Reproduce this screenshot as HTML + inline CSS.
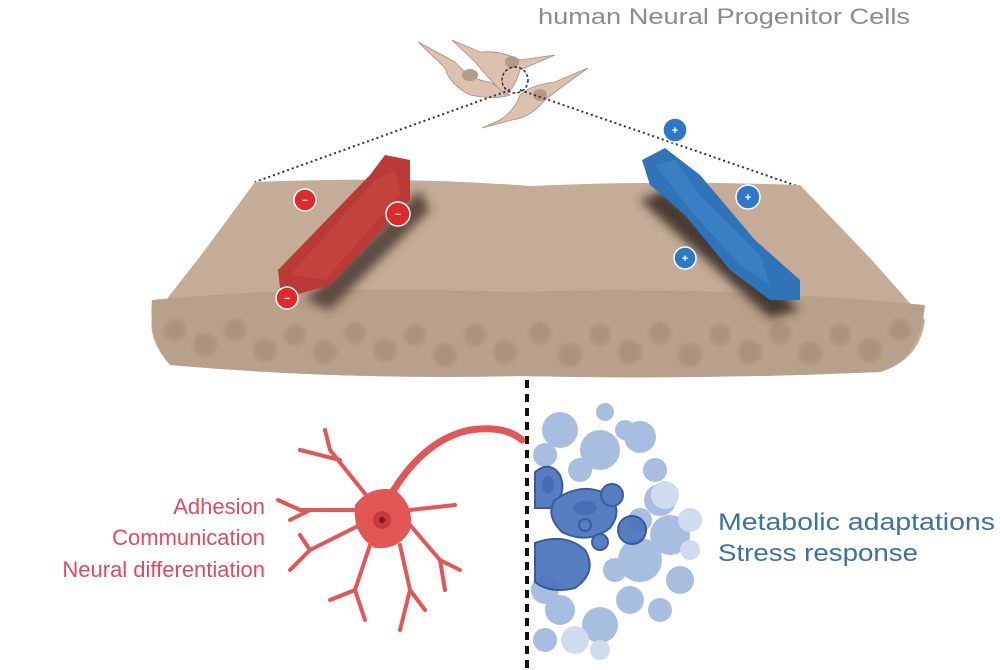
<!DOCTYPE html>
<html><head><meta charset="utf-8"><style>
body{margin:0;background:#fff;width:1000px;height:670px;overflow:hidden}
svg{display:block}
text{font-family:"Liberation Sans",sans-serif}
</style></head><body>
<svg width="1000" height="670" viewBox="0 0 1000 670">
<defs>
<filter id="bl"><feGaussianBlur stdDeviation="1.5"/></filter>
<filter id="bl4"><feGaussianBlur stdDeviation="5"/></filter>
</defs>
<text x="538" y="24" textLength="372" lengthAdjust="spacingAndGlyphs" font-size="22" fill="#8f8a86">human Neural Progenitor Cells</text>
<!-- cells -->
<g fill="#dcc1ae" stroke="#a88f80" stroke-width="0.8">
<path d="M418 42 L455 62 Q470 80 490 82 L510 95 Q495 100 470 95 Q450 85 445 68Z"/>
<path d="M452 40 L480 52 Q500 50 520 60 L555 55 L520 70 Q515 88 505 95 Q490 80 475 62Z"/>
<path d="M588 68 L555 82 Q530 85 520 95 Q515 110 500 120 L482 128 L512 120 Q530 118 545 100 Q560 88 588 68Z"/>
</g>
<g fill="#b59a88"><ellipse cx="470" cy="75" rx="8" ry="6"/><ellipse cx="512" cy="62" rx="7" ry="6"/><ellipse cx="540" cy="95" rx="7" ry="6"/></g>
<ellipse cx="515" cy="80" rx="13" ry="13" fill="none" stroke="#333" stroke-width="1.5" stroke-dasharray="3,2"/>
<g stroke="#333" stroke-width="2" stroke-dasharray="2,3" fill="none">
<line x1="510" y1="90" x2="255" y2="182"/><line x1="520" y1="90" x2="800" y2="187"/>
</g>
<!-- membrane -->
<path d="M255 182 Q400 176 530 186 Q660 180 800 185 L870 258 L925 320 Q920 360 880 372 Q700 380 520 376 Q340 380 170 365 Q148 340 152 318 L205 250Z" fill="#c5ac97"/>
<path d="M152 300 Q300 285 520 292 Q720 285 925 305 Q920 360 880 372 Q700 380 520 376 Q340 380 170 365 Q148 340 152 300Z" fill="#b9a08b"/>
<g fill="#a48a76" opacity="0.55" filter="url(#bl)">
<circle cx="175" cy="330" r="11"/><circle cx="205" cy="345" r="12"/><circle cx="235" cy="330" r="11"/><circle cx="265" cy="350" r="12"/><circle cx="295" cy="335" r="11"/><circle cx="325" cy="352" r="12"/><circle cx="355" cy="333" r="11"/><circle cx="385" cy="350" r="12"/><circle cx="415" cy="335" r="11"/><circle cx="445" cy="355" r="12"/><circle cx="475" cy="335" r="11"/><circle cx="505" cy="352" r="12"/><circle cx="540" cy="333" r="11"/><circle cx="570" cy="355" r="12"/><circle cx="600" cy="335" r="11"/><circle cx="630" cy="352" r="12"/><circle cx="660" cy="333" r="11"/><circle cx="690" cy="355" r="12"/><circle cx="720" cy="335" r="11"/><circle cx="750" cy="352" r="12"/><circle cx="780" cy="333" r="11"/><circle cx="810" cy="353" r="12"/><circle cx="840" cy="335" r="11"/><circle cx="870" cy="350" r="12"/><circle cx="900" cy="330" r="11"/>
</g>
<!-- shadows -->
<path d="M305 300 L420 190 L430 210 L330 310Z" fill="#4a3a30" opacity="0.85" filter="url(#bl4)"/>
<path d="M640 200 L665 190 L800 310 L770 318Z" fill="#3a2e26" opacity="0.9" filter="url(#bl4)"/>
<!-- red protein -->
<path d="M278 270 L370 175 L385 155 L410 160 L410 200 L330 285 L295 295 L280 288Z" fill="#b93a36"/>
<path d="M290 275 L375 180 L395 170 L400 195 L325 280Z" fill="#c9463f" opacity="0.7"/>
<!-- blue protein -->
<path d="M642 160 L665 148 L700 175 L755 240 L800 280 L800 300 L770 300 L730 270 L685 215 L650 185Z" fill="#2f73b8"/>
<path d="M655 165 L675 160 L700 195 L760 255 L770 285 L740 265 L690 210Z" fill="#3c84c8" opacity="0.7"/>
<!-- charges -->
<g fill="#e02a2a" stroke="#fff" stroke-width="1.5">
<circle cx="305" cy="200" r="11"/><circle cx="398" cy="214" r="12"/><circle cx="287" cy="298" r="11"/>
</g>
<g fill="#2e78c8" stroke="#fff" stroke-width="1.5">
<circle cx="675" cy="130" r="12"/><circle cx="748" cy="197" r="12"/><circle cx="685" cy="258" r="11"/>
</g>
<g fill="#fff" font-size="11" text-anchor="middle" font-weight="bold">
<text x="305" y="204">−</text><text x="398" y="218">−</text><text x="287" y="302">−</text>
<text x="675" y="134">+</text><text x="748" y="201">+</text><text x="685" y="262">+</text>
</g>
<!-- dashed vertical -->
<line x1="527" y1="380" x2="527" y2="670" stroke="#111" stroke-width="4" stroke-dasharray="8,6"/>
<!-- blue blobs -->
<g fill="#9fb8de" opacity="0.9">
<circle cx="560" cy="430" r="18"/><circle cx="545" cy="455" r="12"/><circle cx="605" cy="412" r="9"/><circle cx="625" cy="430" r="10"/><circle cx="640" cy="437" r="16"/><circle cx="600" cy="450" r="20"/><circle cx="580" cy="470" r="12"/><circle cx="655" cy="470" r="12"/><circle cx="660" cy="500" r="16"/><circle cx="670" cy="535" r="20"/><circle cx="640" cy="560" r="22"/><circle cx="680" cy="580" r="14"/><circle cx="630" cy="600" r="14"/><circle cx="600" cy="625" r="18"/><circle cx="560" cy="610" r="15"/><circle cx="545" cy="640" r="12"/><circle cx="615" cy="570" r="12"/><circle cx="640" cy="520" r="12"/><circle cx="545" cy="590" r="14"/><circle cx="660" cy="610" r="12"/>
</g>
<g fill="#cfdbee"><circle cx="665" cy="495" r="14"/><circle cx="690" cy="520" r="12"/><circle cx="575" cy="640" r="14"/><circle cx="600" cy="650" r="10"/><circle cx="690" cy="550" r="10"/></g>
<g fill="#4a74bd" stroke="#2a4f94" stroke-width="2" opacity="0.92">
<path d="M535 472 Q550 460 560 475 Q568 495 550 508 L535 508Z"/>
<path d="M555 500 Q580 482 605 493 Q625 508 610 528 Q588 545 562 532 Q545 515 555 500Z"/>
<circle cx="612" cy="495" r="11"/><circle cx="632" cy="530" r="14"/><circle cx="600" cy="542" r="8"/><circle cx="585" cy="525" r="6"/>
<path d="M535 543 Q565 532 585 550 Q598 572 575 588 Q550 594 535 582Z"/>
</g>
<g fill="#3a63ad" opacity="0.6"><ellipse cx="585" cy="508" rx="12" ry="7"/><ellipse cx="548" cy="485" rx="6" ry="9"/></g>
<!-- neuron -->
<g stroke="#e35656" fill="none" stroke-linecap="round">
<path d="M385 505 Q420 440 470 430 Q505 425 522 440" stroke-width="7"/>
<g stroke-width="4">
<path d="M370 500 L330 450 L325 430"/><path d="M340 460 L300 450"/><path d="M355 510 L300 510 L278 500"/><path d="M310 510 L290 520"/>
<path d="M360 525 L310 550 L290 570"/><path d="M310 550 L300 535"/><path d="M370 545 L355 590 L365 620"/><path d="M355 590 L330 600"/>
<path d="M400 545 L410 590 L400 630"/><path d="M410 590 L425 610"/><path d="M410 525 L440 560 L460 570"/><path d="M440 560 L445 590"/><path d="M410 510 L455 505"/>
</g></g>
<path d="M355 505 Q370 485 395 490 Q415 505 410 530 Q400 550 375 548 Q352 535 355 505Z" fill="#e35656"/>
<circle cx="382" cy="520" r="9" fill="#c83a3e"/><circle cx="382" cy="520" r="3" fill="#7a1a1e"/>
<g font-size="22" fill="#e04a5e" text-anchor="end">
<text x="265" y="514">Adhesion</text><text x="265" y="545">Communication</text><text x="265" y="577">Neural differentiation</text>
</g>
<g font-size="24" fill="#3b70a8">
<text x="718" y="530" textLength="277" lengthAdjust="spacingAndGlyphs">Metabolic adaptations</text><text x="718" y="561" textLength="200" lengthAdjust="spacingAndGlyphs">Stress response</text>
</g>
</svg>
</body></html>
